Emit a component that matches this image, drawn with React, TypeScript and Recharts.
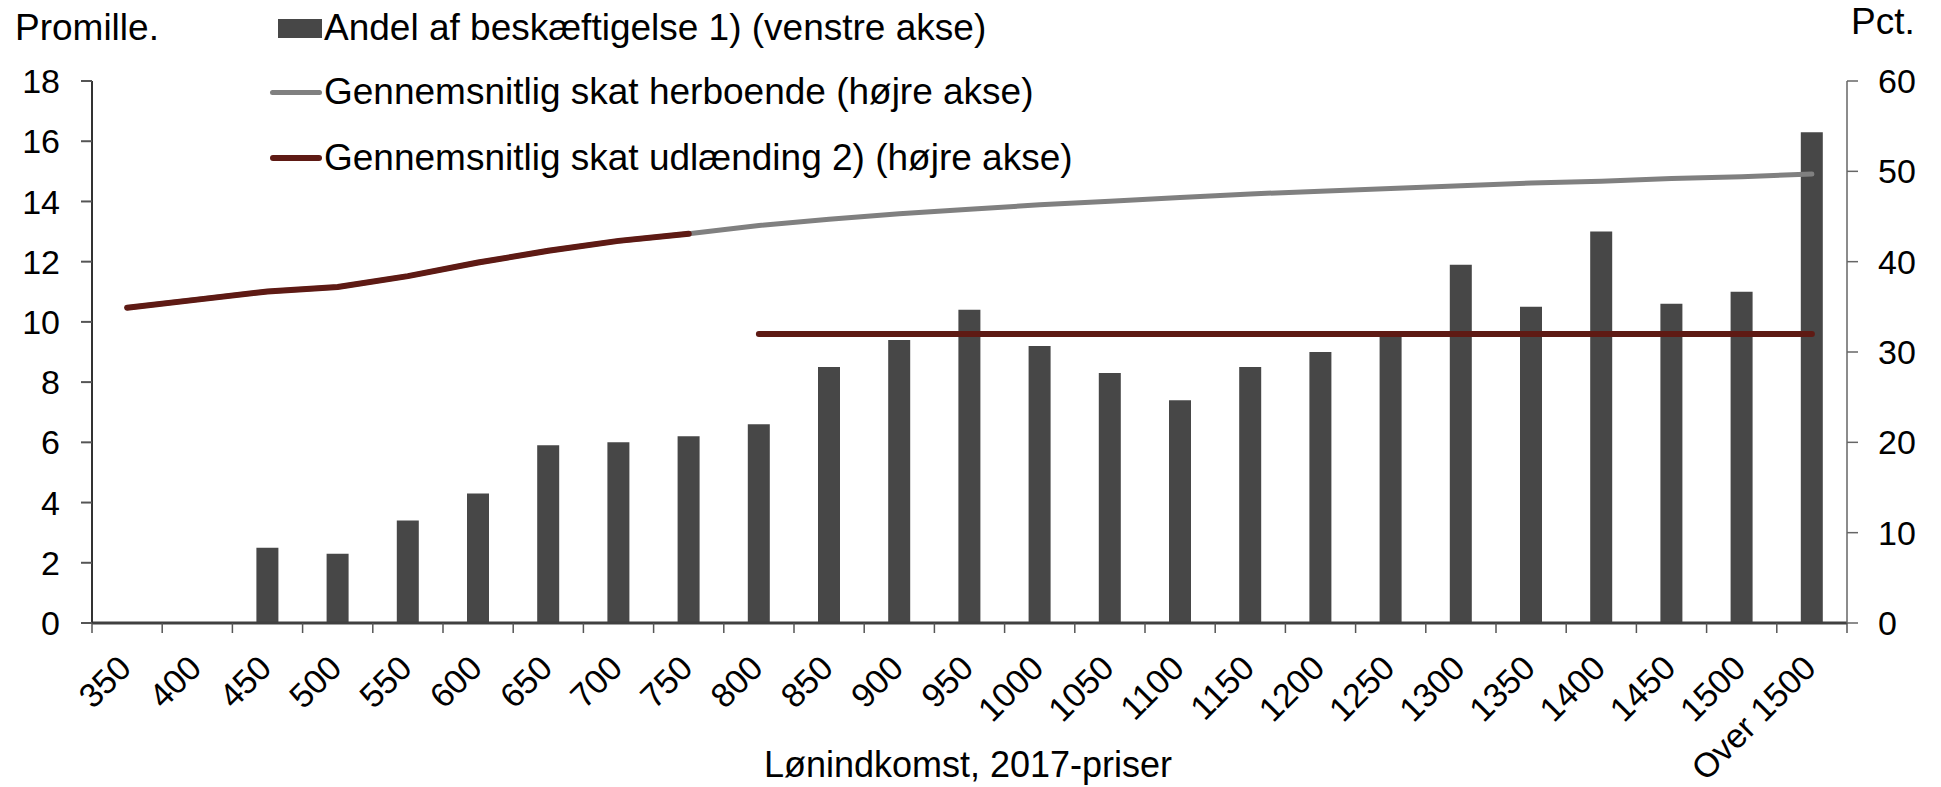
import React from 'react';
import {
  ComposedChart,
  Bar,
  Line,
  XAxis,
  YAxis,
} from 'recharts';

const categories = [
  '350', '400', '450', '500', '550', '600', '650', '700', '750', '800',
  '850', '900', '950', '1000', '1050', '1100', '1150', '1200', '1250',
  '1300', '1350', '1400', '1450', '1500', 'Over 1500',
];

// Andel af beskæftigelse (promille, venstre akse)
const andel = [
  null, null, 2.5, 2.3, 3.4, 4.3, 5.9, 6.0, 6.2, 6.6,
  8.5, 9.4, 10.4, 9.2, 8.3, 7.4, 8.5, 9.0, 9.7,
  11.9, 10.5, 13.0, 10.6, 11.0, 16.3,
];

// Gennemsnitlig skat herboende (pct., højre akse)
const herboende = [
  34.9, 35.8, 36.7, 37.2, 38.4, 39.9, 41.2, 42.3, 43.1, 44.0,
  44.7, 45.3, 45.8, 46.3, 46.7, 47.1, 47.5, 47.8, 48.1,
  48.4, 48.7, 48.9, 49.2, 49.4, 49.7,
];

// Gennemsnitlig skat udlænding - to stykker (almindelig skat / forskerordning)
const udlLav = [
  34.9, 35.8, 36.7, 37.2, 38.4, 39.9, 41.2, 42.3, 43.1, null,
  null, null, null, null, null, null, null, null, null,
  null, null, null, null, null, null,
];
const udlHoj = [
  null, null, null, null, null, null, null, null, null, 32,
  32, 32, 32, 32, 32, 32, 32, 32, 32,
  32, 32, 32, 32, 32, 32,
];

const leftTicks = [0, 2, 4, 6, 8, 10, 12, 14, 16, 18];
const rightTicks = [0, 10, 20, 30, 40, 50, 60];

const W = 1941;
const H = 787;
const LEFT = 92;
const RIGHT = 94;
const TOP = 81;
const BOTTOM = 164;
const BAND = (W - LEFT - RIGHT) / categories.length;

const BAR = '#474747';
const GREY = '#808080';
const RED = '#5e1a14';
const FONT = '"Liberation Sans", Arial, sans-serif';

const data = categories.map((c, i) => ({
  cat: c,
  andel: andel[i],
  herboende: herboende[i],
  udlLav: udlLav[i],
  udlHoj: udlHoj[i],
}));

function XTick(props: any) {
  const { x, y, payload, index } = props;
  const tx = x + 6;
  const ty = y + 47;
  return (
    <g>
      <line x1={x - BAND / 2} x2={x - BAND / 2} y1={y} y2={y + 10} stroke="#555" strokeWidth={1.5} />
      {index === categories.length - 1 && (
        <line x1={x + BAND / 2} x2={x + BAND / 2} y1={y} y2={y + 10} stroke="#555" strokeWidth={1.5} />
      )}
      <text
        x={tx}
        y={ty}
        textAnchor="end"
        fontSize={34}
        fill="#000"
        fontFamily={FONT}
        transform={`rotate(-45 ${tx} ${ty})`}
      >
        {payload.value}
      </text>
    </g>
  );
}

function Legend() {
  const row = (top: number) => ({
    position: 'absolute' as const,
    left: 270,
    top,
    height: 44,
    display: 'flex',
    alignItems: 'center',
    fontSize: 37,
    whiteSpace: 'nowrap' as const,
  });
  return (
    <>
      <div style={row(6)}>
        <div style={{ width: 44, height: 19, background: BAR, marginLeft: 8 }} />
        <span style={{ marginLeft: 2 }}>Andel af beskæftigelse 1) (venstre akse)</span>
      </div>
      <div style={row(70)}>
        <div style={{ width: 52, height: 5, background: GREY, borderRadius: 3 }} />
        <span style={{ marginLeft: 2 }}>Gennemsnitlig skat herboende (højre akse)</span>
      </div>
      <div style={row(136)}>
        <div style={{ width: 52, height: 6, background: RED, borderRadius: 3 }} />
        <span style={{ marginLeft: 2 }}>Gennemsnitlig skat udlænding 2) (højre akse)</span>
      </div>
    </>
  );
}

export default function App() {
  return (
    <div
      style={{
        position: 'absolute',
        left: 0,
        top: 0,
        width: W,
        height: H,
        background: '#fff',
        fontFamily: FONT,
        color: '#000',
        overflow: 'hidden',
      }}
    >
      <ComposedChart
        width={W}
        height={H}
        data={data}
        margin={{ top: TOP, right: 0, bottom: 0, left: 0 }}
      >
        <XAxis
          dataKey="cat"
          interval={0}
          height={BOTTOM}
          tickSize={0}
          tickMargin={0}
          tickLine={false}
          axisLine={{ stroke: '#404040', strokeWidth: 3 }}
          tick={<XTick />}
        />
        <YAxis
          yAxisId="left"
          orientation="left"
          width={LEFT}
          domain={[0, 18]}
          ticks={leftTicks}
          tickSize={11}
          tickMargin={21}
          axisLine={{ stroke: '#333', strokeWidth: 2 }}
          tickLine={{ stroke: '#555', strokeWidth: 2 }}
          tick={{ fontSize: 34, fill: '#000' }}
        />
        <YAxis
          yAxisId="right"
          orientation="right"
          width={RIGHT}
          domain={[0, 60]}
          ticks={rightTicks}
          tickSize={11}
          tickMargin={20}
          axisLine={{ stroke: '#666', strokeWidth: 1.5 }}
          tickLine={{ stroke: '#666', strokeWidth: 1.5 }}
          tick={{ fontSize: 34, fill: '#000' }}
        />
        <Bar yAxisId="left" dataKey="andel" fill={BAR} barSize={22} isAnimationActive={false} />
        <Line
          yAxisId="right"
          dataKey="herboende"
          type="linear"
          stroke={GREY}
          strokeWidth={5}
          strokeLinecap="round"
          dot={false}
          activeDot={false}
          isAnimationActive={false}
        />
        <Line
          yAxisId="right"
          dataKey="udlLav"
          type="linear"
          stroke={RED}
          strokeWidth={6}
          strokeLinecap="round"
          dot={false}
          activeDot={false}
          isAnimationActive={false}
        />
        <Line
          yAxisId="right"
          dataKey="udlHoj"
          type="linear"
          stroke={RED}
          strokeWidth={6}
          strokeLinecap="round"
          dot={false}
          activeDot={false}
          isAnimationActive={false}
        />
      </ComposedChart>

      <div style={{ position: 'absolute', left: 15, top: 7, fontSize: 37 }}>Promille.</div>
      <div style={{ position: 'absolute', left: 1851, top: 1, fontSize: 37 }}>Pct.</div>
      <Legend />
      <div style={{ position: 'absolute', left: 0, width: 1936, top: 744, textAlign: 'center', fontSize: 36 }}>
        Lønindkomst, 2017-priser
      </div>
    </div>
  );
}
